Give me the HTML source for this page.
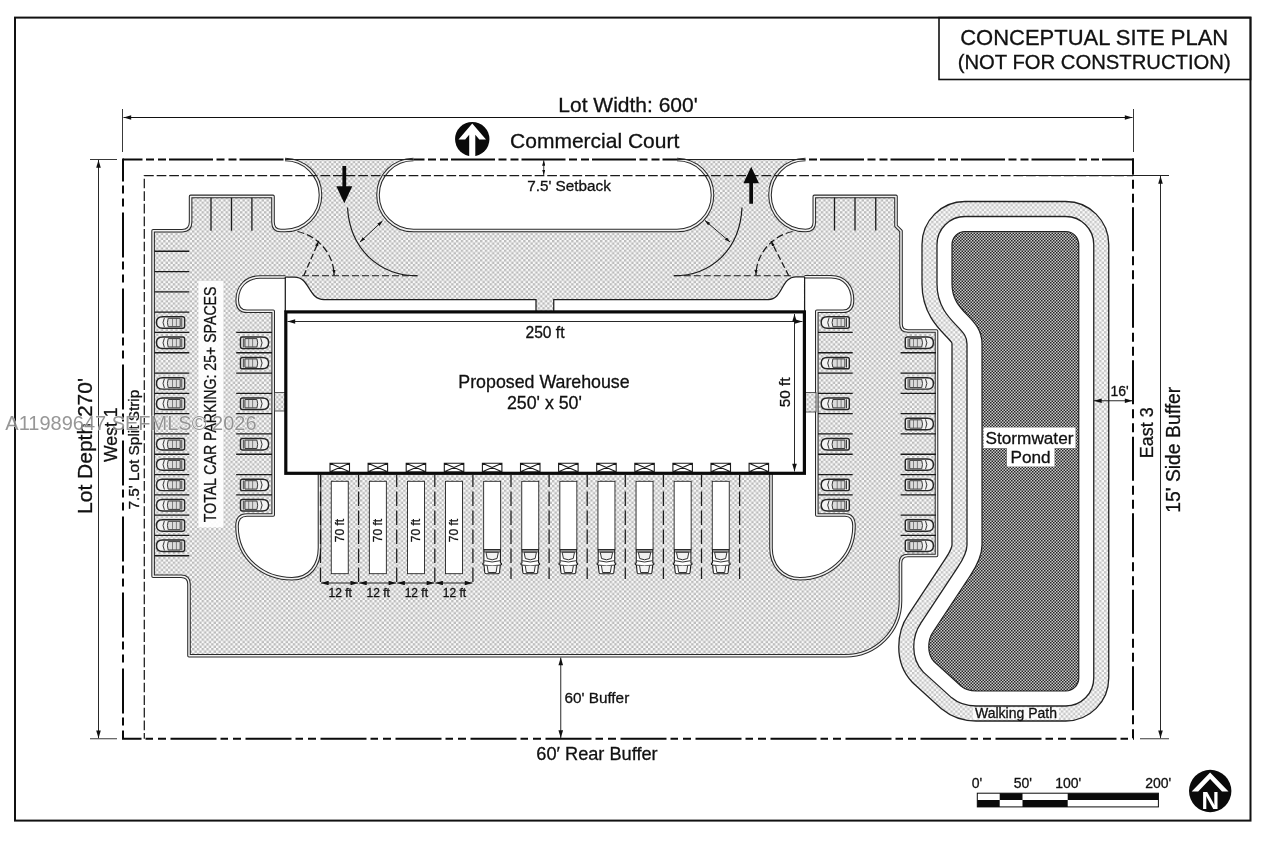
<!DOCTYPE html>
<html><head><meta charset="utf-8"><title>Conceptual Site Plan</title>
<style>html,body{margin:0;padding:0;background:#fff;}svg{display:block;filter:grayscale(1) blur(0.3px);}text{stroke:#111;stroke-width:0.3px;}text.wm{stroke:#fff;stroke-width:0.7px;}text.nn{stroke:none;}</style></head>
<body>
<svg width="1264" height="848" viewBox="0 0 1264 848">
<rect width="1264" height="848" fill="#fff"/>
<defs>
<pattern id="pv" width="4.8" height="4.8" patternUnits="userSpaceOnUse">
<rect width="4.8" height="4.8" fill="#fafafa"/>
<rect x="0" y="0" width="2.4" height="2.4" fill="#bcbcbc"/>
<rect x="2.4" y="2.4" width="2.4" height="2.4" fill="#bcbcbc"/>
</pattern>
<pattern id="wp" width="4.8" height="4.8" patternUnits="userSpaceOnUse">
<rect width="4.8" height="4.8" fill="#fbfbfb"/>
<rect x="0" y="0" width="2.4" height="2.4" fill="#c6c6c6"/>
<rect x="2.4" y="2.4" width="2.4" height="2.4" fill="#c6c6c6"/>
</pattern>
<pattern id="pd" width="3" height="3" patternUnits="userSpaceOnUse">
<rect width="3" height="3" fill="#cdcdcd"/>
<rect x="0" y="0" width="1.5" height="1.5" fill="#252525"/>
<rect x="1.5" y="1.5" width="1.5" height="1.5" fill="#252525"/>
</pattern>
<marker id="ah" viewBox="0 0 10 6" refX="10" refY="3" markerWidth="8.8" markerHeight="4.6" orient="auto-start-reverse" markerUnits="userSpaceOnUse">
<path d="M0,0 L10,3 L0,6 Z" fill="#111"/>
</marker>
<marker id="as" viewBox="0 0 10 6" refX="10" refY="3" markerWidth="5.5" markerHeight="3.4" orient="auto-start-reverse" markerUnits="userSpaceOnUse">
<path d="M0,0 L10,3 L0,6 Z" fill="#111"/>
</marker>
</defs>
<rect x="15" y="17.6" width="1235.5" height="803" fill="none" stroke="#111" stroke-width="2"/>
<rect x="939" y="17.6" width="311.5" height="61.9" fill="none" stroke="#111" stroke-width="1.6"/>
<text x="1094.2" y="44.5" font-family="Liberation Sans, sans-serif" font-size="21.4" text-anchor="middle" textLength="268" lengthAdjust="spacingAndGlyphs" fill="#111">CONCEPTUAL SITE PLAN</text>
<text x="1094.2" y="69" font-family="Liberation Sans, sans-serif" font-size="20" text-anchor="middle" textLength="273" lengthAdjust="spacingAndGlyphs" fill="#111">(NOT FOR CONSTRUCTION)</text>
<path d="M285,159.5 H413.5 A35.5,35.5 0 0 0 413.5,230.5 H677 A35.5,35.5 0 0 0 677,159.5 H805.5 A35.5,35.5 0 0 0 805.5,230.5 Q814.3,230.5 814.3,222.5 V196.4 H896 V226 L901,231 V324 Q901,331 908,331 H936.5 V555.5 H908 Q900.5,555.5 900.5,563 V601 A55,55 0 0 1 845.5,655.8 H189 V584 Q189,576.2 181,576.2 H153.1 V230.7 H182 Q190.6,230.7 190.6,222 V196.4 H273 V222 Q273,230.5 281,230.5 H285 A35.5,35.5 0 0 0 285,159.5 Z M260,277 H294.5 C310,277 308,299.5 324,299.5 H536 V312 H553.75 V299.5 H768.5 C783,299.5 781,276.8 796,276.8 H831 C845,276.8 852.5,287 852.5,300 Q852.5,311.3 843,311.3 H816.8 V515 H845 Q854,515 854,526 C854,560 826,578.75 800,578.75 C782,578.75 771,565 771,548 V473.25 H320 V548 C320,565 310,578.75 292,578.75 C265,578.75 237,560 237,526 Q237,515 247,515 H273.2 V311.3 H247 Q237.2,311.3 237.2,300 C237.2,287 246,277 260,277 Z" fill="url(#pv)" fill-rule="evenodd" stroke="none"/>
<path d="M413.5,159.5 A35.5,35.5 0 0 0 413.5,230.5 H677 A35.5,35.5 0 0 0 677,159.5" fill="none" stroke="#2a2a2a" stroke-width="3.6" stroke-linejoin="round" stroke-linecap="butt"/>
<path d="M413.5,159.5 A35.5,35.5 0 0 0 413.5,230.5 H677 A35.5,35.5 0 0 0 677,159.5" fill="none" stroke="#f2f2f2" stroke-width="1.5" stroke-linejoin="round" stroke-linecap="butt"/>
<path d="M805.5,159.5 A35.5,35.5 0 0 0 805.5,230.5 Q814.3,230.5 814.3,222.5 V196.4 H896 V226 L901,231 V324 Q901,331 908,331 H936.5 V555.5 H908 Q900.5,555.5 900.5,563 V601 A55,55 0 0 1 845.5,655.8 H189 V584 Q189,576.2 181,576.2 H153.1 V230.7 H182 Q190.6,230.7 190.6,222 V196.4 H273 V222 Q273,230.5 281,230.5 H285 A35.5,35.5 0 0 0 285,159.5" fill="none" stroke="#2a2a2a" stroke-width="3.6" stroke-linejoin="round" stroke-linecap="butt"/>
<path d="M805.5,159.5 A35.5,35.5 0 0 0 805.5,230.5 Q814.3,230.5 814.3,222.5 V196.4 H896 V226 L901,231 V324 Q901,331 908,331 H936.5 V555.5 H908 Q900.5,555.5 900.5,563 V601 A55,55 0 0 1 845.5,655.8 H189 V584 Q189,576.2 181,576.2 H153.1 V230.7 H182 Q190.6,230.7 190.6,222 V196.4 H273 V222 Q273,230.5 281,230.5 H285 A35.5,35.5 0 0 0 285,159.5" fill="none" stroke="#f2f2f2" stroke-width="1.5" stroke-linejoin="round" stroke-linecap="butt"/>
<path d="M285,159.5 H413.5 M677,159.5 H805.5" stroke="#222" stroke-width="1.2" fill="none"/>
<path d="M285.5,277 H260 C246,277 237.2,287 237.2,300 Q237.2,311.3 247,311.3 H273.2 V515 H247 Q237,515 237,526 C237,560 265,578.75 292,578.75 C310,578.75 319.5,565 319.5,548 V474" fill="none" stroke="#2a2a2a" stroke-width="3.6" stroke-linejoin="round" stroke-linecap="butt"/>
<path d="M285.5,277 H260 C246,277 237.2,287 237.2,300 Q237.2,311.3 247,311.3 H273.2 V515 H247 Q237,515 237,526 C237,560 265,578.75 292,578.75 C310,578.75 319.5,565 319.5,548 V474" fill="none" stroke="#f2f2f2" stroke-width="1.5" stroke-linejoin="round" stroke-linecap="butt"/>
<path d="M804.5,276.8 H831 C845,276.8 852.5,287 852.5,300 Q852.5,311.3 843,311.3 H816.8 V515 H845 Q854,515 854,526 C854,560 826,578.75 800,578.75 C782,578.75 771,565 771,548 V474" fill="none" stroke="#2a2a2a" stroke-width="3.6" stroke-linejoin="round" stroke-linecap="butt"/>
<path d="M804.5,276.8 H831 C845,276.8 852.5,287 852.5,300 Q852.5,311.3 843,311.3 H816.8 V515 H845 Q854,515 854,526 C854,560 826,578.75 800,578.75 C782,578.75 771,565 771,548 V474" fill="none" stroke="#f2f2f2" stroke-width="1.5" stroke-linejoin="round" stroke-linecap="butt"/>
<path d="M285.5,277 H294.5 C310,277 308,299.5 324,299.5 H536 V312 M553.75,312 V299.5 H768.5 C783,299.5 781,276.8 796,276.8 H804.5 M285.3,277 V312 M804.6,276.8 V312" stroke="#1c1c1c" stroke-width="1.25" fill="none"/>
<rect x="274.5" y="392.5" width="11" height="18.5" fill="url(#pv)" stroke="#333" stroke-width="0.8"/>
<rect x="805" y="392.5" width="11" height="19.5" fill="url(#pv)" stroke="#333" stroke-width="0.8"/>
<rect x="285.8" y="311.9" width="518.6" height="161.4" fill="#fff" stroke="#0a0a0a" stroke-width="3.2"/>
<path d="M330.00,463.3 h19.5 v8.4 h-19.5 Z M330.00,463.3 l19.5,8.4 M349.50,463.3 l-19.5,8.4" fill="#fff" stroke="#1a1a1a" stroke-width="1.1"/>
<path d="M368.10,463.3 h19.5 v8.4 h-19.5 Z M368.10,463.3 l19.5,8.4 M387.60,463.3 l-19.5,8.4" fill="#fff" stroke="#1a1a1a" stroke-width="1.1"/>
<path d="M406.20,463.3 h19.5 v8.4 h-19.5 Z M406.20,463.3 l19.5,8.4 M425.70,463.3 l-19.5,8.4" fill="#fff" stroke="#1a1a1a" stroke-width="1.1"/>
<path d="M444.30,463.3 h19.5 v8.4 h-19.5 Z M444.30,463.3 l19.5,8.4 M463.80,463.3 l-19.5,8.4" fill="#fff" stroke="#1a1a1a" stroke-width="1.1"/>
<path d="M482.40,463.3 h19.5 v8.4 h-19.5 Z M482.40,463.3 l19.5,8.4 M501.90,463.3 l-19.5,8.4" fill="#fff" stroke="#1a1a1a" stroke-width="1.1"/>
<path d="M520.50,463.3 h19.5 v8.4 h-19.5 Z M520.50,463.3 l19.5,8.4 M540.00,463.3 l-19.5,8.4" fill="#fff" stroke="#1a1a1a" stroke-width="1.1"/>
<path d="M558.60,463.3 h19.5 v8.4 h-19.5 Z M558.60,463.3 l19.5,8.4 M578.10,463.3 l-19.5,8.4" fill="#fff" stroke="#1a1a1a" stroke-width="1.1"/>
<path d="M596.70,463.3 h19.5 v8.4 h-19.5 Z M596.70,463.3 l19.5,8.4 M616.20,463.3 l-19.5,8.4" fill="#fff" stroke="#1a1a1a" stroke-width="1.1"/>
<path d="M634.80,463.3 h19.5 v8.4 h-19.5 Z M634.80,463.3 l19.5,8.4 M654.30,463.3 l-19.5,8.4" fill="#fff" stroke="#1a1a1a" stroke-width="1.1"/>
<path d="M672.90,463.3 h19.5 v8.4 h-19.5 Z M672.90,463.3 l19.5,8.4 M692.40,463.3 l-19.5,8.4" fill="#fff" stroke="#1a1a1a" stroke-width="1.1"/>
<path d="M711.00,463.3 h19.5 v8.4 h-19.5 Z M711.00,463.3 l19.5,8.4 M730.50,463.3 l-19.5,8.4" fill="#fff" stroke="#1a1a1a" stroke-width="1.1"/>
<path d="M749.10,463.3 h19.5 v8.4 h-19.5 Z M749.10,463.3 l19.5,8.4 M768.60,463.3 l-19.5,8.4" fill="#fff" stroke="#1a1a1a" stroke-width="1.1"/>
<line x1="320.50" y1="475" x2="320.50" y2="586" stroke="#1a1a1a" stroke-width="1.25" stroke-dasharray="14.5 4.5" stroke-dashoffset="2.5"/>
<line x1="358.60" y1="475" x2="358.60" y2="586" stroke="#1a1a1a" stroke-width="1.25" stroke-dasharray="14.5 4.5" stroke-dashoffset="2.5"/>
<line x1="396.70" y1="475" x2="396.70" y2="586" stroke="#1a1a1a" stroke-width="1.25" stroke-dasharray="14.5 4.5" stroke-dashoffset="2.5"/>
<line x1="434.80" y1="475" x2="434.80" y2="586" stroke="#1a1a1a" stroke-width="1.25" stroke-dasharray="14.5 4.5" stroke-dashoffset="2.5"/>
<line x1="472.90" y1="475" x2="472.90" y2="586" stroke="#1a1a1a" stroke-width="1.25" stroke-dasharray="14.5 4.5" stroke-dashoffset="2.5"/>
<line x1="511.00" y1="475" x2="511.00" y2="579" stroke="#1a1a1a" stroke-width="1.25" stroke-dasharray="14.5 4.5" stroke-dashoffset="2.5"/>
<line x1="549.10" y1="475" x2="549.10" y2="579" stroke="#1a1a1a" stroke-width="1.25" stroke-dasharray="14.5 4.5" stroke-dashoffset="2.5"/>
<line x1="587.20" y1="475" x2="587.20" y2="579" stroke="#1a1a1a" stroke-width="1.25" stroke-dasharray="14.5 4.5" stroke-dashoffset="2.5"/>
<line x1="625.30" y1="475" x2="625.30" y2="579" stroke="#1a1a1a" stroke-width="1.25" stroke-dasharray="14.5 4.5" stroke-dashoffset="2.5"/>
<line x1="663.40" y1="475" x2="663.40" y2="579" stroke="#1a1a1a" stroke-width="1.25" stroke-dasharray="14.5 4.5" stroke-dashoffset="2.5"/>
<line x1="701.50" y1="475" x2="701.50" y2="579" stroke="#1a1a1a" stroke-width="1.25" stroke-dasharray="14.5 4.5" stroke-dashoffset="2.5"/>
<line x1="739.60" y1="475" x2="739.60" y2="579" stroke="#1a1a1a" stroke-width="1.25" stroke-dasharray="14.5 4.5" stroke-dashoffset="2.5"/>
<rect x="331.25" y="481.3" width="17" height="92.4" fill="#fff" stroke="#222" stroke-width="0.9"/>
<text transform="translate(344.05,530.5) rotate(-90)" font-family="Liberation Sans, sans-serif" font-size="12" text-anchor="middle" fill="#111">70 ft</text>
<rect x="369.35" y="481.3" width="17" height="92.4" fill="#fff" stroke="#222" stroke-width="0.9"/>
<text transform="translate(382.15,530.5) rotate(-90)" font-family="Liberation Sans, sans-serif" font-size="12" text-anchor="middle" fill="#111">70 ft</text>
<rect x="407.45" y="481.3" width="17" height="92.4" fill="#fff" stroke="#222" stroke-width="0.9"/>
<text transform="translate(420.25,530.5) rotate(-90)" font-family="Liberation Sans, sans-serif" font-size="12" text-anchor="middle" fill="#111">70 ft</text>
<rect x="445.55" y="481.3" width="17" height="92.4" fill="#fff" stroke="#222" stroke-width="0.9"/>
<text transform="translate(458.35,530.5) rotate(-90)" font-family="Liberation Sans, sans-serif" font-size="12" text-anchor="middle" fill="#111">70 ft</text>
<rect x="483.65" y="481.3" width="17" height="68.4" fill="#fff" stroke="#222" stroke-width="0.9"/>
<g transform="translate(492.15,549.9)" fill="#fff" stroke="#1c1c1c" stroke-width="1.1" stroke-linejoin="round"><path d="M-8.3,0 H8.3 V13 L9.3,13.4 V14.6 L8.2,15 L7.4,22.5 Q7.2,23.8 5.8,23.8 H-5.8 Q-7.2,23.8 -7.4,22.5 L-8.2,15 L-9.3,14.6 V13.4 L-8.3,13 Z"/><path d="M-8.3,2 H8.3" stroke-width="0.9"/><path d="M-6.2,2.4 H6.2 L4.9,8.6 Q0,11.2 -4.9,8.6 Z" fill="#f1f1f1" stroke-width="0.9"/><path d="M-7.9,10.8 Q0,13.4 7.9,10.8 M-8,15.2 Q0,16.6 8,15.2" fill="none" stroke-width="0.9"/><path d="M-5,15.9 L-3.9,22.6 H3.9 L5,15.9" fill="#f4f4f4" stroke-width="0.9"/></g>
<rect x="521.75" y="481.3" width="17" height="68.4" fill="#fff" stroke="#222" stroke-width="0.9"/>
<g transform="translate(530.25,549.9)" fill="#fff" stroke="#1c1c1c" stroke-width="1.1" stroke-linejoin="round"><path d="M-8.3,0 H8.3 V13 L9.3,13.4 V14.6 L8.2,15 L7.4,22.5 Q7.2,23.8 5.8,23.8 H-5.8 Q-7.2,23.8 -7.4,22.5 L-8.2,15 L-9.3,14.6 V13.4 L-8.3,13 Z"/><path d="M-8.3,2 H8.3" stroke-width="0.9"/><path d="M-6.2,2.4 H6.2 L4.9,8.6 Q0,11.2 -4.9,8.6 Z" fill="#f1f1f1" stroke-width="0.9"/><path d="M-7.9,10.8 Q0,13.4 7.9,10.8 M-8,15.2 Q0,16.6 8,15.2" fill="none" stroke-width="0.9"/><path d="M-5,15.9 L-3.9,22.6 H3.9 L5,15.9" fill="#f4f4f4" stroke-width="0.9"/></g>
<rect x="559.85" y="481.3" width="17" height="68.4" fill="#fff" stroke="#222" stroke-width="0.9"/>
<g transform="translate(568.35,549.9)" fill="#fff" stroke="#1c1c1c" stroke-width="1.1" stroke-linejoin="round"><path d="M-8.3,0 H8.3 V13 L9.3,13.4 V14.6 L8.2,15 L7.4,22.5 Q7.2,23.8 5.8,23.8 H-5.8 Q-7.2,23.8 -7.4,22.5 L-8.2,15 L-9.3,14.6 V13.4 L-8.3,13 Z"/><path d="M-8.3,2 H8.3" stroke-width="0.9"/><path d="M-6.2,2.4 H6.2 L4.9,8.6 Q0,11.2 -4.9,8.6 Z" fill="#f1f1f1" stroke-width="0.9"/><path d="M-7.9,10.8 Q0,13.4 7.9,10.8 M-8,15.2 Q0,16.6 8,15.2" fill="none" stroke-width="0.9"/><path d="M-5,15.9 L-3.9,22.6 H3.9 L5,15.9" fill="#f4f4f4" stroke-width="0.9"/></g>
<rect x="597.95" y="481.3" width="17" height="68.4" fill="#fff" stroke="#222" stroke-width="0.9"/>
<g transform="translate(606.45,549.9)" fill="#fff" stroke="#1c1c1c" stroke-width="1.1" stroke-linejoin="round"><path d="M-8.3,0 H8.3 V13 L9.3,13.4 V14.6 L8.2,15 L7.4,22.5 Q7.2,23.8 5.8,23.8 H-5.8 Q-7.2,23.8 -7.4,22.5 L-8.2,15 L-9.3,14.6 V13.4 L-8.3,13 Z"/><path d="M-8.3,2 H8.3" stroke-width="0.9"/><path d="M-6.2,2.4 H6.2 L4.9,8.6 Q0,11.2 -4.9,8.6 Z" fill="#f1f1f1" stroke-width="0.9"/><path d="M-7.9,10.8 Q0,13.4 7.9,10.8 M-8,15.2 Q0,16.6 8,15.2" fill="none" stroke-width="0.9"/><path d="M-5,15.9 L-3.9,22.6 H3.9 L5,15.9" fill="#f4f4f4" stroke-width="0.9"/></g>
<rect x="636.05" y="481.3" width="17" height="68.4" fill="#fff" stroke="#222" stroke-width="0.9"/>
<g transform="translate(644.55,549.9)" fill="#fff" stroke="#1c1c1c" stroke-width="1.1" stroke-linejoin="round"><path d="M-8.3,0 H8.3 V13 L9.3,13.4 V14.6 L8.2,15 L7.4,22.5 Q7.2,23.8 5.8,23.8 H-5.8 Q-7.2,23.8 -7.4,22.5 L-8.2,15 L-9.3,14.6 V13.4 L-8.3,13 Z"/><path d="M-8.3,2 H8.3" stroke-width="0.9"/><path d="M-6.2,2.4 H6.2 L4.9,8.6 Q0,11.2 -4.9,8.6 Z" fill="#f1f1f1" stroke-width="0.9"/><path d="M-7.9,10.8 Q0,13.4 7.9,10.8 M-8,15.2 Q0,16.6 8,15.2" fill="none" stroke-width="0.9"/><path d="M-5,15.9 L-3.9,22.6 H3.9 L5,15.9" fill="#f4f4f4" stroke-width="0.9"/></g>
<rect x="674.15" y="481.3" width="17" height="68.4" fill="#fff" stroke="#222" stroke-width="0.9"/>
<g transform="translate(682.65,549.9)" fill="#fff" stroke="#1c1c1c" stroke-width="1.1" stroke-linejoin="round"><path d="M-8.3,0 H8.3 V13 L9.3,13.4 V14.6 L8.2,15 L7.4,22.5 Q7.2,23.8 5.8,23.8 H-5.8 Q-7.2,23.8 -7.4,22.5 L-8.2,15 L-9.3,14.6 V13.4 L-8.3,13 Z"/><path d="M-8.3,2 H8.3" stroke-width="0.9"/><path d="M-6.2,2.4 H6.2 L4.9,8.6 Q0,11.2 -4.9,8.6 Z" fill="#f1f1f1" stroke-width="0.9"/><path d="M-7.9,10.8 Q0,13.4 7.9,10.8 M-8,15.2 Q0,16.6 8,15.2" fill="none" stroke-width="0.9"/><path d="M-5,15.9 L-3.9,22.6 H3.9 L5,15.9" fill="#f4f4f4" stroke-width="0.9"/></g>
<rect x="712.25" y="481.3" width="17" height="68.4" fill="#fff" stroke="#222" stroke-width="0.9"/>
<g transform="translate(720.75,549.9)" fill="#fff" stroke="#1c1c1c" stroke-width="1.1" stroke-linejoin="round"><path d="M-8.3,0 H8.3 V13 L9.3,13.4 V14.6 L8.2,15 L7.4,22.5 Q7.2,23.8 5.8,23.8 H-5.8 Q-7.2,23.8 -7.4,22.5 L-8.2,15 L-9.3,14.6 V13.4 L-8.3,13 Z"/><path d="M-8.3,2 H8.3" stroke-width="0.9"/><path d="M-6.2,2.4 H6.2 L4.9,8.6 Q0,11.2 -4.9,8.6 Z" fill="#f1f1f1" stroke-width="0.9"/><path d="M-7.9,10.8 Q0,13.4 7.9,10.8 M-8,15.2 Q0,16.6 8,15.2" fill="none" stroke-width="0.9"/><path d="M-5,15.9 L-3.9,22.6 H3.9 L5,15.9" fill="#f4f4f4" stroke-width="0.9"/></g>
<line x1="321.00" y1="583" x2="358.10" y2="583" stroke="#111" stroke-width="0.9" marker-start="url(#ah)" marker-end="url(#ah)"/>
<text x="340.15" y="597.3" font-family="Liberation Sans, sans-serif" font-size="12" text-anchor="middle" fill="#111">12 ft</text>
<line x1="359.10" y1="583" x2="396.20" y2="583" stroke="#111" stroke-width="0.9" marker-start="url(#ah)" marker-end="url(#ah)"/>
<text x="378.25" y="597.3" font-family="Liberation Sans, sans-serif" font-size="12" text-anchor="middle" fill="#111">12 ft</text>
<line x1="397.20" y1="583" x2="434.30" y2="583" stroke="#111" stroke-width="0.9" marker-start="url(#ah)" marker-end="url(#ah)"/>
<text x="416.35" y="597.3" font-family="Liberation Sans, sans-serif" font-size="12" text-anchor="middle" fill="#111">12 ft</text>
<line x1="435.30" y1="583" x2="472.40" y2="583" stroke="#111" stroke-width="0.9" marker-start="url(#ah)" marker-end="url(#ah)"/>
<text x="454.45" y="597.3" font-family="Liberation Sans, sans-serif" font-size="12" text-anchor="middle" fill="#111">12 ft</text>
<path d="M154.5,251.25 H189.3 M154.5,271.55 H189.3 M154.5,291.85 H189.3 M154.5,312.15 H189.3 M154.5,332.45 H189.3 M154.5,352.75 H189.3 M154.5,373.05 H189.3 M154.5,393.35 H189.3 M154.5,413.65 H189.3 M154.5,433.95 H189.3 M154.5,454.25 H189.3 M154.5,474.55 H189.3 M154.5,494.85 H189.3 M154.5,515.15 H189.3 M154.5,535.45 H189.3 M154.5,555.75 H189.3 M236.2,332.45 H272 M236.2,352.75 H272 M236.2,373.05 H272 M236.2,393.35 H272 M236.2,413.65 H272 M236.2,433.95 H272 M236.2,454.25 H272 M236.2,474.55 H272 M236.2,494.85 H272 M818,332.45 H852.7 M818,352.75 H852.7 M818,373.05 H852.7 M818,393.35 H852.7 M818,413.65 H852.7 M818,433.95 H852.7 M818,454.25 H852.7 M818,474.55 H852.7 M818,494.85 H852.7 M900.6,352.75 H936 M900.6,373.05 H936 M900.6,393.35 H936 M900.6,413.65 H936 M900.6,433.95 H936 M900.6,454.25 H936 M900.6,474.55 H936 M900.6,494.85 H936 M900.6,515.15 H936 M900.6,535.45 H936 M211.0,197.7 V230.8 M231.5,197.7 V230.8 M251.9,197.7 V230.8 M834.5,197.5 V230.5 M855.0,197.5 V230.5 M875.75,197.5 V230.5" stroke="#1a1a1a" stroke-width="1.3" fill="none"/>
<defs><g id="car" fill="#f2f2f2" stroke="#262626" stroke-width="1.45"><path d="M-14,-3.8 Q-14,-5.7 -12,-5.7 H8 Q14.1,-5.7 14.1,0 Q14.1,5.7 8,5.7 H-12 Q-14,5.7 -14,3.8 Z"/><path d="M-11.2,-4.4 V4.4 M-9.6,-4.2 H2.4 Q4,0 2.4,4.2 H-9.6 Z M6.2,-4.6 Q9,0 6.2,4.6" fill="#dcdcdc" stroke-width="1" stroke="#3a3a3a"/><path d="M-5.8,-4.2 V4.2 M-1.9,-4.2 V4.2" stroke-width="0.7" stroke="#555"/></g></defs>
<use href="#car" transform="translate(170.60,322.50) scale(-1,1)"/>
<use href="#car" transform="translate(170.60,342.80) scale(-1,1)"/>
<use href="#car" transform="translate(170.60,383.40) scale(-1,1)"/>
<use href="#car" transform="translate(170.60,403.70) scale(-1,1)"/>
<use href="#car" transform="translate(170.60,444.30) scale(-1,1)"/>
<use href="#car" transform="translate(170.60,464.60) scale(-1,1)"/>
<use href="#car" transform="translate(170.60,484.90) scale(-1,1)"/>
<use href="#car" transform="translate(170.60,505.20) scale(-1,1)"/>
<use href="#car" transform="translate(170.60,525.50) scale(-1,1)"/>
<use href="#car" transform="translate(170.60,545.80) scale(-1,1)"/>
<use href="#car" transform="translate(254.50,342.80)"/>
<use href="#car" transform="translate(254.50,363.10)"/>
<use href="#car" transform="translate(254.50,403.70)"/>
<use href="#car" transform="translate(254.50,444.30)"/>
<use href="#car" transform="translate(254.50,484.90)"/>
<use href="#car" transform="translate(254.50,505.20)"/>
<use href="#car" transform="translate(835.30,322.50) scale(-1,1)"/>
<use href="#car" transform="translate(835.30,363.10) scale(-1,1)"/>
<use href="#car" transform="translate(835.30,403.70) scale(-1,1)"/>
<use href="#car" transform="translate(835.30,444.30) scale(-1,1)"/>
<use href="#car" transform="translate(835.30,484.90) scale(-1,1)"/>
<use href="#car" transform="translate(835.30,505.20) scale(-1,1)"/>
<use href="#car" transform="translate(919.30,342.80)"/>
<use href="#car" transform="translate(919.30,383.40)"/>
<use href="#car" transform="translate(919.30,424.00)"/>
<use href="#car" transform="translate(919.30,464.60)"/>
<use href="#car" transform="translate(919.30,484.90)"/>
<use href="#car" transform="translate(919.30,525.50)"/>
<use href="#car" transform="translate(919.30,545.80)"/>
<path d="M965,231.5 H1065.75 A13,13 0 0 1 1078.75,244.5 V678 A13,13 0 0 1 1065.75,691 H976 Q967,691 961,686 L934,661.5 Q928.75,656 928.75,647 Q928.75,638 933,632 L970,576 Q982,558 982,545 V344 C982,316 952,314 952,284 V244.5 A13,13 0 0 1 965,231.5 Z" fill="none" stroke="#222" stroke-width="61.3" stroke-linejoin="round"/>
<path d="M965,231.5 H1065.75 A13,13 0 0 1 1078.75,244.5 V678 A13,13 0 0 1 1065.75,691 H976 Q967,691 961,686 L934,661.5 Q928.75,656 928.75,647 Q928.75,638 933,632 L970,576 Q982,558 982,545 V344 C982,316 952,314 952,284 V244.5 A13,13 0 0 1 965,231.5 Z" fill="none" stroke="url(#wp)" stroke-width="58.7" stroke-linejoin="round"/>
<path d="M965,231.5 H1065.75 A13,13 0 0 1 1078.75,244.5 V678 A13,13 0 0 1 1065.75,691 H976 Q967,691 961,686 L934,661.5 Q928.75,656 928.75,647 Q928.75,638 933,632 L970,576 Q982,558 982,545 V344 C982,316 952,314 952,284 V244.5 A13,13 0 0 1 965,231.5 Z" fill="none" stroke="#222" stroke-width="31.3" stroke-linejoin="round"/>
<path d="M965,231.5 H1065.75 A13,13 0 0 1 1078.75,244.5 V678 A13,13 0 0 1 1065.75,691 H976 Q967,691 961,686 L934,661.5 Q928.75,656 928.75,647 Q928.75,638 933,632 L970,576 Q982,558 982,545 V344 C982,316 952,314 952,284 V244.5 A13,13 0 0 1 965,231.5 Z" fill="#fff" stroke="#fff" stroke-width="28.7" stroke-linejoin="round"/>
<path d="M965,231.5 H1065.75 A13,13 0 0 1 1078.75,244.5 V678 A13,13 0 0 1 1065.75,691 H976 Q967,691 961,686 L934,661.5 Q928.75,656 928.75,647 Q928.75,638 933,632 L970,576 Q982,558 982,545 V344 C982,316 952,314 952,284 V244.5 A13,13 0 0 1 965,231.5 Z" fill="url(#pd)" stroke="#222" stroke-width="1.2" stroke-linejoin="round"/>
<rect x="983.5" y="427.5" width="92" height="20.5" fill="#fff"/>
<rect x="1007" y="447" width="47.5" height="19.5" fill="#fff"/>
<text x="1029.5" y="443.5" font-family="Liberation Sans, sans-serif" font-size="17.2" text-anchor="middle" fill="#111">Stormwater</text>
<text x="1030.5" y="463" font-family="Liberation Sans, sans-serif" font-size="17.2" text-anchor="middle" fill="#111">Pond</text>
<rect x="973" y="707.5" width="86" height="12" fill="#fff" opacity="0.85"/>
<text x="1016" y="718" font-family="Liberation Sans, sans-serif" font-size="14" text-anchor="middle" fill="#111">Walking Path</text>
<path d="M123,159.5 H285" fill="none" stroke="#0a0a0a" stroke-width="2" stroke-dasharray="44 3.5 8 4 8 3" stroke-dashoffset="24.5"/>
<path d="M413.5,159.5 H677" fill="none" stroke="#0a0a0a" stroke-width="2" stroke-dasharray="44 3.5 8 4 8 3" stroke-dashoffset="33"/>
<path d="M805.5,159.5 H1134" fill="none" stroke="#0a0a0a" stroke-width="2" stroke-dasharray="44 3.5 8 4 8 3" stroke-dashoffset="56"/>
<path d="M123,158.5 V738.75" fill="none" stroke="#0a0a0a" stroke-width="2" stroke-dasharray="45 4 8 5 8 6" stroke-dashoffset="22"/>
<path d="M1133,158.5 V738.75" fill="none" stroke="#0a0a0a" stroke-width="2" stroke-dasharray="44 5 9 5 9 4.5" stroke-dashoffset="27.7"/>
<path d="M122,738.75 H1134" fill="none" stroke="#0a0a0a" stroke-width="2" stroke-dasharray="46 4 7.5 5 8 4.5" stroke-dashoffset="26.5"/>
<path d="M144.3,738.75 V175.5 H1133" fill="none" stroke="#1a1a1a" stroke-width="1.25" stroke-dasharray="9.7 2.9" stroke-dashoffset="4"/>
<path d="M1019,175.5 H1169" fill="none" stroke="#222" stroke-width="1"/>
<line x1="123.5" y1="117.5" x2="1132.5" y2="117.5" stroke="#111" stroke-width="1" marker-start="url(#ah)" marker-end="url(#ah)"/>
<path d="M122.5,109 V152 M1133.5,109 V152" stroke="#222" stroke-width="0.9" fill="none"/>
<text x="628" y="112" font-family="Liberation Sans, sans-serif" font-size="21" text-anchor="middle" fill="#111">Lot Width: 600'</text>
<line x1="98.5" y1="160" x2="98.5" y2="738.2" stroke="#111" stroke-width="0.9" marker-start="url(#ah)" marker-end="url(#ah)"/>
<path d="M90,159.5 H117 M90,738.75 H117" stroke="#222" stroke-width="0.9" fill="none"/>
<line x1="1160.5" y1="176" x2="1160.5" y2="738.2" stroke="#111" stroke-width="0.9" marker-start="url(#ah)" marker-end="url(#ah)"/>
<path d="M1140,738.75 H1169" stroke="#222" stroke-width="0.9" fill="none"/>
<line x1="287.5" y1="321.5" x2="802.5" y2="321.5" stroke="#111" stroke-width="0.9" marker-start="url(#ah)" marker-end="url(#ah)"/>
<text x="545" y="337.5" font-family="Liberation Sans, sans-serif" font-size="15.6" text-anchor="middle" fill="#111">250 ft</text>
<line x1="794.5" y1="314" x2="794.5" y2="471.5" stroke="#111" stroke-width="0.9" marker-start="url(#ah)" marker-end="url(#ah)"/>
<text transform="translate(789.8,392.4) rotate(-90)" font-family="Liberation Sans, sans-serif" font-size="15.3" text-anchor="middle" fill="#111">50 ft</text>
<line x1="543.75" y1="160.3" x2="543.75" y2="175" stroke="#111" stroke-width="0.8" marker-start="url(#as)" marker-end="url(#as)"/>
<text x="569" y="191.3" font-family="Liberation Sans, sans-serif" font-size="15.3" text-anchor="middle" fill="#111">7.5' Setback</text>
<line x1="560.75" y1="657.5" x2="560.75" y2="738" stroke="#111" stroke-width="0.9" marker-start="url(#ah)" marker-end="url(#ah)"/>
<text x="564.5" y="702.5" font-family="Liberation Sans, sans-serif" font-size="15.3" fill="#111">60' Buffer</text>
<text x="597" y="759.5" font-family="Liberation Sans, sans-serif" font-size="18.2" text-anchor="middle" fill="#111">60′ Rear Buffer</text>
<line x1="1094" y1="400.75" x2="1132.5" y2="400.75" stroke="#111" stroke-width="0.9" marker-start="url(#ah)" marker-end="url(#ah)"/>
<text x="1119.5" y="396" font-family="Liberation Sans, sans-serif" font-size="14" text-anchor="middle" fill="#111">16'</text>
<text transform="translate(91.8,446) rotate(-90)" font-family="Liberation Sans, sans-serif" font-size="21" text-anchor="middle" fill="#111">Lot Depth 270'</text>
<text transform="translate(117,434.7) rotate(-90)" font-family="Liberation Sans, sans-serif" font-size="17.6" text-anchor="middle" fill="#111">West 1</text>
<text transform="translate(138.5,449.6) rotate(-90)" font-family="Liberation Sans, sans-serif" font-size="15.35" text-anchor="middle" fill="#111">7.5' Lot Split Strip</text>
<rect x="198.4" y="281" width="25" height="246.5" fill="#fff" opacity="0.92"/>
<text transform="translate(216.2,404.4) rotate(-90)" font-family="Liberation Sans, sans-serif" font-size="16" text-anchor="middle" textLength="235.6" lengthAdjust="spacingAndGlyphs" fill="#111">TOTAL CAR PARKING: 25+ SPACES</text>
<text transform="translate(1153,432.8) rotate(-90)" font-family="Liberation Sans, sans-serif" font-size="18" text-anchor="middle" fill="#111">East 3</text>
<text transform="translate(1179.7,449.7) rotate(-90)" font-family="Liberation Sans, sans-serif" font-size="19.35" text-anchor="middle" fill="#111">15' Side Buffer</text>
<text x="544" y="387.8" font-family="Liberation Sans, sans-serif" font-size="17.8" text-anchor="middle" fill="#111">Proposed Warehouse</text>
<text x="544.4" y="409" font-family="Liberation Sans, sans-serif" font-size="17.8" text-anchor="middle" fill="#111">250' x 50'</text>
<text x="594.7" y="148" font-family="Liberation Sans, sans-serif" font-size="21" text-anchor="middle" fill="#111">Commercial Court</text>
<circle cx="472.25" cy="139.1" r="17.2" fill="#0a0a0a"/>
<path d="M472.25,123.5 L486,139.5 L479.3,139.5 L475.3,134.8 V157 H469.2 V134.8 L465.2,139.5 L458.5,139.5 Z" fill="#fff"/>
<path d="M342.4,166 H346.2 V186.3 H352.3 L344.3,203.2 L336.3,186.3 H342.4 Z" fill="#0a0a0a"/>
<path d="M749.3,203.8 H753 V183.3 H759 L751.2,166.8 L743.4,183.3 H749.3 Z" fill="#0a0a0a"/>
<path d="M347.5,207.5 C350,250 380,275.75 417.5,275.75 M742,207.5 C740,250 711,275.75 673.75,275.75" fill="none" stroke="#1a1a1a" stroke-width="1.2"/>
<path d="M302,275.75 H417.5 M673.75,275.75 H792.5" fill="none" stroke="#1a1a1a" stroke-width="1.1" stroke-dasharray="7 3"/>
<path d="M297.5,231.5 C318,236 334,254 334,275.2" fill="none" stroke="#1a1a1a" stroke-width="1.25" stroke-dasharray="7 3" marker-end="url(#as)"/>
<path d="M792.5,231.5 C772,236 756,254 756,275.2" fill="none" stroke="#1a1a1a" stroke-width="1.25" stroke-dasharray="7 3" marker-end="url(#as)"/>
<path d="M303.75,275.75 L318.75,241" fill="none" stroke="#1a1a1a" stroke-width="1.25" stroke-dasharray="6 3" marker-end="url(#as)"/>
<path d="M788.75,275.75 L771,241" fill="none" stroke="#1a1a1a" stroke-width="1.25" stroke-dasharray="6 3" marker-end="url(#as)"/>
<line x1="382.5" y1="221" x2="360" y2="242" stroke="#111" stroke-width="0.9" marker-start="url(#as)" marker-end="url(#as)"/>
<line x1="705" y1="220.5" x2="730" y2="242" stroke="#111" stroke-width="0.9" marker-start="url(#as)" marker-end="url(#as)"/>
<rect x="977.3" y="793.2" width="181.1" height="13.7" fill="#fff" stroke="#0a0a0a" stroke-width="1"/>
<path d="M999.7,793.2 H1022.5 V800 H999.7 Z M1067.7,793.2 H1158.4 V800 H1067.7 Z M977.3,800 H999.7 V806.9 H977.3 Z M1022.5,800 H1067.7 V806.9 H1022.5 Z" fill="#0a0a0a"/>
<text x="977" y="788.4" font-family="Liberation Sans, sans-serif" font-size="14" text-anchor="middle" fill="#111">0'</text>
<text x="1022.8" y="788.4" font-family="Liberation Sans, sans-serif" font-size="14" text-anchor="middle" fill="#111">50'</text>
<text x="1068.2" y="788.4" font-family="Liberation Sans, sans-serif" font-size="14" text-anchor="middle" fill="#111">100'</text>
<text x="1158.2" y="788.4" font-family="Liberation Sans, sans-serif" font-size="14" text-anchor="middle" fill="#111">200'</text>
<circle cx="1210.2" cy="791" r="21.2" fill="#0a0a0a"/>
<path d="M1210.1,772.4 L1228.5,791.6 L1222,791.6 L1210.1,779 L1198.2,791.6 L1191.7,791.6 Z" fill="#fff"/>
<text class="nn" x="1210.2" y="808.5" font-family="Liberation Sans, sans-serif" font-size="24.4" font-weight="bold" text-anchor="middle" fill="#fff">N</text>
<text class="wm" x="5.3" y="430" font-family="Liberation Sans, sans-serif" font-size="20" fill="#8c8c8c" stroke="#fff" stroke-width="0.7" paint-order="stroke" opacity="0.9">A11989647 SEFMLS© 2026</text>
</svg>
</body></html>
